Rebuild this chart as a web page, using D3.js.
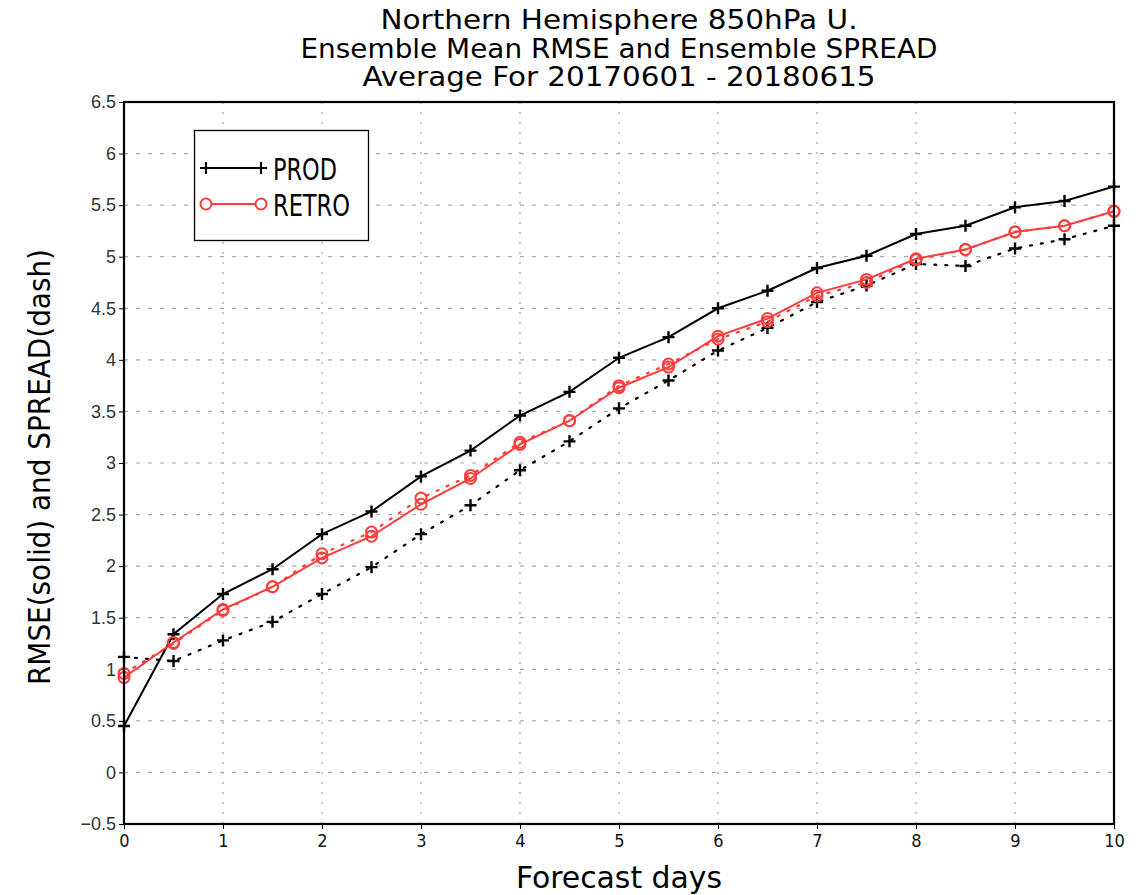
<!DOCTYPE html>
<html><head><meta charset="utf-8">
<script src="https://cdn.jsdelivr.net/npm/d3@7"></script>
<style>body{margin:0;background:#fff}svg{display:block}</style>
</head><body>
<svg id="c" width="1147" height="895"></svg>
<script>
const days = [0,0.5,1,1.5,2,2.5,3,3.5,4,4.5,5,5.5,6,6.5,7,7.5,8,8.5,9,9.5,10];
const prodRmse   = [0.45,1.34,1.73,1.97,2.31,2.53,2.87,3.12,3.46,3.69,4.02,4.22,4.50,4.67,4.89,5.01,5.22,5.30,5.48,5.54,5.68];
const prodSpread = [1.12,1.08,1.28,1.46,1.73,1.99,2.31,2.59,2.93,3.21,3.53,3.80,4.09,4.31,4.56,4.72,4.93,4.91,5.08,5.17,5.30];
const retroRmse  = [0.92,1.26,1.58,1.80,2.08,2.29,2.60,2.85,3.18,3.41,3.73,3.93,4.23,4.40,4.65,4.78,4.98,5.07,5.24,5.30,5.44];
const retroSpread= [0.96,1.25,1.57,1.80,2.12,2.33,2.66,2.88,3.20,3.41,3.75,3.96,4.20,4.37,4.62,4.75,4.97,5.07,5.24,5.30,5.44];
const xTicks = [0,1,2,3,4,5,6,7,8,9,10];
const yTicks = [-0.5,0,0.5,1,1.5,2,2.5,3,3.5,4,4.5,5,5.5,6,6.5];
const titles = ["Northern Hemisphere 850hPa U.","Ensemble Mean RMSE and Ensemble SPREAD","Average For 20170601 - 20180615"];
const legendNames = ["PROD","RETRO"];

const svg = d3.select("#c");
const L=124,R=1114,T=102,B=824;
const x = d3.scaleLinear().domain([0,10]).range([L,R]);
const y = d3.scaleLinear().domain([-0.5,6.5]).range([B,T]);
const F = "'Liberation Sans Narrow','DejaVu Sans Condensed','Liberation Sans',sans-serif";
const RED = "#ff3b3b";

// grid
const g = svg.append("g");
g.selectAll(".gx").data(xTicks.slice(1,-1)).enter().append("line")
 .attr("x1",d=>x(d)).attr("x2",d=>x(d)).attr("y1",T).attr("y2",B)
 .attr("stroke","#aaa").attr("stroke-width",1.2).attr("stroke-dasharray","2,8");
g.selectAll(".gy").data(yTicks.slice(1,-1)).enter().append("line")
 .attr("x1",L).attr("x2",R).attr("y1",d=>y(d)).attr("y2",d=>y(d))
 .attr("stroke","#aaa").attr("stroke-width",1.2).attr("stroke-dasharray","4,8");

// axes
const ax = svg.append("g").attr("transform",`translate(0,${B})`)
 .call(d3.axisBottom(x).tickValues(xTicks).tickSize(5).tickFormat(d3.format("d")));
ax.select(".domain").remove();
ax.selectAll("text").attr("font-family",F).attr("font-size",18).attr("fill","#111").attr("dy","0.85em");
ax.selectAll("line").attr("stroke","#000");
const ay = svg.append("g").attr("transform",`translate(${L},0)`)
 .call(d3.axisLeft(y).tickValues(yTicks).tickSize(5).tickFormat(d=>d3.format("")(d).replace("-","\u2212")));
ay.select(".domain").remove();
ay.selectAll("text").attr("font-family","'Liberation Sans',Arial,sans-serif").attr("font-size",18).attr("fill","#333");
ay.selectAll("line").attr("stroke","#000");

// lines
const line = d3.line().x((d,i)=>x(days[i])).y(d=>y(d));
function series(vals,color,dash,marker){
  svg.append("path").datum(vals).attr("d",line).attr("fill","none")
   .attr("stroke",color).attr("stroke-width",dash?2.2:2)
   .attr("stroke-dasharray",dash?"2,9":null).attr("stroke-linecap","round");
  const m = svg.append("g");
  vals.forEach((v,i)=>{
    const cx=x(days[i]), cy=y(v);
    if(marker==="plus"){
      m.append("path").attr("d",`M${cx-6},${cy}H${cx+6}M${cx},${cy-6}V${cy+6}`)
       .attr("stroke",color).attr("stroke-width",2.4);
    } else {
      m.append("circle").attr("cx",cx).attr("cy",cy).attr("r",5.5)
       .attr("fill","none").attr("stroke",color).attr("stroke-width",2);
    }
  });
}
series(prodSpread,"#000",true,"plus");
series(retroSpread,RED,true,"circle");
series(prodRmse,"#000",false,"plus");
series(retroRmse,RED,false,"circle");

// frame
svg.append("rect").attr("x",L).attr("y",T).attr("width",R-L).attr("height",B-T)
 .attr("fill","none").attr("stroke","#000").attr("stroke-width",2.2);

// titles
const tw=[477,637,513];
titles.forEach((t,i)=>{
  svg.append("text").attr("x",619).attr("y",29+i*28.5).attr("text-anchor","middle")
   .attr("font-family",F).attr("font-size",27).attr("fill","#000")
   .attr("textLength",tw[i]).attr("lengthAdjust","spacingAndGlyphs").text(t);
});
svg.append("text").attr("x",619).attr("y",888).attr("text-anchor","middle")
 .attr("font-family",F).attr("font-size",30).attr("textLength",206).attr("lengthAdjust","spacingAndGlyphs").text("Forecast days");
svg.append("text").attr("transform","translate(50,467) rotate(-90)").attr("text-anchor","middle")
 .attr("font-family",F).attr("font-size",30).attr("textLength",436).attr("lengthAdjust","spacingAndGlyphs").text("RMSE(solid) and SPREAD(dash)");

// legend
const lg = svg.append("g");
lg.append("rect").attr("x",194.5).attr("y",130.5).attr("width",174).attr("height",110)
 .attr("fill","#fff").attr("stroke","#000").attr("stroke-width",1.3);
const legY=[168,204];
legendNames.forEach((n,i)=>{
  const c = i===0?"#000":RED;
  lg.append("line").attr("x1",206).attr("x2",261).attr("y1",legY[i]).attr("y2",legY[i]).attr("stroke",c).attr("stroke-width",2);
  [206,261].forEach(px=>{
    if(i===0) lg.append("path").attr("d",`M${px-6},${legY[i]}H${px+6}M${px},${legY[i]-6}V${legY[i]+6}`).attr("stroke",c).attr("stroke-width",2.2);
    else lg.append("circle").attr("cx",px).attr("cy",legY[i]).attr("r",5.5).attr("fill","#fff").attr("stroke",c).attr("stroke-width",2);
  });
  lg.append("text").attr("x",273).attr("y",legY[i]+11.5).attr("font-family",F).attr("font-size",31)
   .attr("textLength",i===0?64:77).attr("lengthAdjust","spacingAndGlyphs").text(n);
});
</script>
</body></html>
